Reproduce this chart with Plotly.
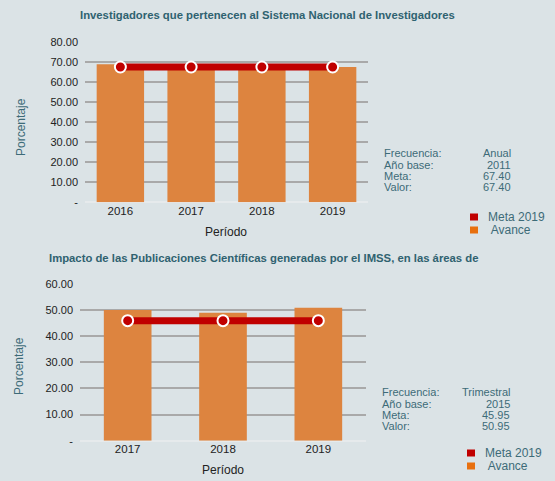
import plotly.graph_objects as go

# Chart 1 data
years1 = ["2016", "2017", "2018", "2019"]
avance1 = [68.8, 66.5, 67.0, 67.4]
meta1 = [67.4, 67.4, 67.4, 67.4]
ticks1 = [0, 10, 20, 30, 40, 50, 60, 70, 80]
ticktext1 = ["-", "10.00", "20.00", "30.00", "40.00", "50.00", "60.00", "70.00", "80.00"]
title1 = "Investigadores que pertenecen al Sistema Nacional de Investigadores"
info1_labels = ["Frecuencia:", "Año base:", "Meta:", "Valor:"]
info1_values = ["Anual", "2011", "67.40", "67.40"]

# Chart 2 data
years2 = ["2017", "2018", "2019"]
avance2 = [50.0, 49.0, 50.95]
meta2 = [45.95, 45.95, 45.95]
ticks2 = [0, 10, 20, 30, 40, 50, 60]
ticktext2 = ["-", "10.00", "20.00", "30.00", "40.00", "50.00", "60.00"]
title2 = "Impacto de las Publicaciones Científicas generadas por el IMSS, en las áreas de"
info2_labels = ["Frecuencia:", "Año base:", "Meta:", "Valor:"]
info2_values = ["Trimestral", "2015", "45.95", "50.95"]

BG = "#dbe3e6"
ORANGE = "#dd843f"
RED = "#c00000"
TEAL = "#2f6270"
TEXT = "#3d6b78"
FONT = "Liberation Sans, Arial, sans-serif"
W, H = 555, 481

def px(x):
    return x / W

def py(y):
    return 1 - y / H

fig = go.Figure()

fig.add_trace(go.Bar(x=years1, y=avance1, marker=dict(color=ORANGE, line=dict(width=0)),
                     xaxis="x", yaxis="y", showlegend=False, hoverinfo="y"))
fig.add_trace(go.Scatter(x=years1, y=meta1, mode="lines+markers",
                         line=dict(color=RED, width=7),
                         marker=dict(size=11, color=RED, line=dict(color="white", width=2)),
                         xaxis="x", yaxis="y", showlegend=False))
fig.add_trace(go.Bar(x=years2, y=avance2, width=0.5, marker=dict(color=ORANGE, line=dict(width=0)),
                     xaxis="x2", yaxis="y2", showlegend=False, hoverinfo="y"))
fig.add_trace(go.Scatter(x=years2, y=meta2, mode="lines+markers",
                         line=dict(color=RED, width=7),
                         marker=dict(size=11, color=RED, line=dict(color="white", width=2)),
                         xaxis="x2", yaxis="y2", showlegend=False))

axis_common = dict(showgrid=False, ticks="", showline=False, zeroline=False, automargin=False,
                   tickfont=dict(family=FONT, size=11.5, color="#222222"))
yaxis_common = dict(showgrid=True, gridcolor="#a9a9a9", gridwidth=1.5, ticks="", automargin=False,
                    showline=False, zeroline=True, zerolinecolor="#e6eaec", zerolinewidth=2,
                    tickfont=dict(family=FONT, size=11, color="#222222"), ticklabelstandoff=6)

annotations = []
shapes = []

def add_block(title, tx, ty, ylab_x, ylab_y, xlab, labels, values, lx, rx, rows_y,
              leg_x, leg_y1, leg_y2):
    annotations.append(dict(text="<b>" + title + "</b>", x=px(tx), y=py(ty), xref="paper", yref="paper",
                            showarrow=False, xanchor="center", yanchor="middle",
                            font=dict(family=FONT, size=11.3, color=TEAL)))
    annotations.append(dict(text="Porcentaje", x=px(ylab_x), y=py(ylab_y), xref="paper", yref="paper",
                            showarrow=False, textangle=-90, xanchor="center", yanchor="middle",
                            font=dict(family=FONT, size=12, color=TEXT)))
    annotations.append(dict(text="Período", x=px(xlab[0]), y=py(xlab[1]),
                            xref="paper", yref="paper", showarrow=False,
                            xanchor="center", yanchor="middle",
                            font=dict(family=FONT, size=12, color="#222222")))
    for lab, val, yy in zip(labels, values, rows_y):
        annotations.append(dict(text=lab, x=px(lx), y=py(yy), xref="paper", yref="paper",
                                showarrow=False, xanchor="left", yanchor="middle",
                                font=dict(family=FONT, size=11, color=TEXT)))
        annotations.append(dict(text=val, x=px(rx), y=py(yy), xref="paper", yref="paper",
                                showarrow=False, xanchor="right", yanchor="middle",
                                font=dict(family=FONT, size=11, color=TEXT)))
    for col, name, yy in [(RED, "Meta 2019", leg_y1), ("#e8700f", " Avance", leg_y2)]:
        shapes.append(dict(type="rect", xref="paper", yref="paper",
                           x0=px(leg_x), x1=px(leg_x + 8), y0=py(yy + 3.5), y1=py(yy - 3.5),
                           fillcolor=col, line=dict(width=0)))
        annotations.append(dict(text=name, x=px(leg_x + 16), y=py(yy), xref="paper", yref="paper",
                                showarrow=False, xanchor="left", yanchor="middle",
                                font=dict(family=FONT, size=12, color=TEXT)))

add_block(title1, 267, 15, 21, 127, (226, 232), info1_labels, info1_values, 382, 513,
          [153, 165, 176, 187], 470, 217, 230)
add_block(title2, 263, 258, 19, 366, (223, 470), info2_labels, info2_values, 380, 512,
          [392, 403.5, 414.5, 425.5], 467, 453, 466)

fig.update_layout(
    width=W, height=H,
    autosize=False,
    margin=dict(l=0, r=0, t=0, b=0, pad=0, autoexpand=False),
    paper_bgcolor=BG, plot_bgcolor=BG,
    font=dict(family=FONT),
    bargap=0.33,
    xaxis=dict(domain=[px(85), px(368)], anchor="y", **axis_common),
    yaxis=dict(domain=[py(202.3), py(41.7)], range=[0, 80], tickvals=ticks1, ticktext=ticktext1,
               anchor="x", **yaxis_common),
    xaxis2=dict(domain=[px(80), px(366)], anchor="y2", **axis_common),
    yaxis2=dict(domain=[py(440.7), py(284)], range=[0, 60], tickvals=ticks2, ticktext=ticktext2,
                anchor="x2", **yaxis_common),
    annotations=annotations,
    shapes=shapes,
)

fig.write_html("out.html", config={"responsive": False, "displayModeBar": False},
               post_script="document.body.style.margin='0';document.body.style.overflow='hidden';")
